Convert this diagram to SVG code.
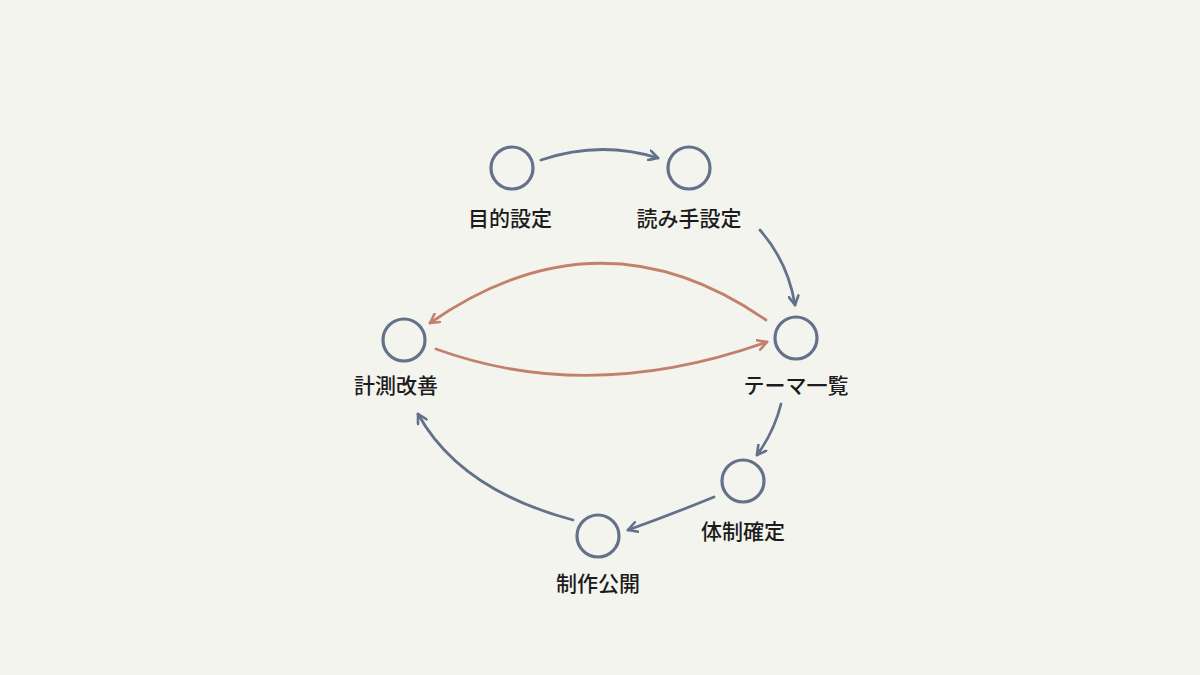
<svg xmlns="http://www.w3.org/2000/svg" width="1200" height="675" viewBox="0 0 1200 675">
<defs>
<marker id="as" viewBox="0 0 12 12" refX="10" refY="6" markerWidth="12" markerHeight="12" markerUnits="userSpaceOnUse" orient="auto"><path d="M1,1 L10,6 L1,11" fill="none" stroke="#64718a" stroke-width="2.6" stroke-linecap="round" stroke-linejoin="round"/></marker>
<marker id="ar" viewBox="0 0 12 12" refX="10" refY="6" markerWidth="12" markerHeight="12" markerUnits="userSpaceOnUse" orient="auto"><path d="M1,1 L10,6 L1,11" fill="none" stroke="#c2816d" stroke-width="2.6" stroke-linecap="round" stroke-linejoin="round"/></marker>
<style>
.n{fill:none;stroke:#64718a;stroke-width:3.2}
.t{font-family:"Noto Sans CJK JP",sans-serif;font-size:21px;font-weight:500;fill:#1c1c1c;text-anchor:middle}
.s{fill:none;stroke:#64718a;stroke-width:2.8;stroke-linecap:round;marker-end:url(#as)}
.r{fill:none;stroke:#c2816d;stroke-width:2.8;stroke-linecap:round;marker-end:url(#ar)}
</style>
</defs>
<rect width="1200" height="675" fill="#f4f4ef"/>
<g id="connectors">
<path class="s" d="M541,160 Q600,140 658,158"/>
<path class="s" d="M760,230 Q788,262 795,305"/>
<path class="s" d="M781,404 Q774,432 757,455"/>
<path class="s" d="M714,497 Q670,515 628,530"/>
<path class="s" d="M573,520 Q460,490 418,414"/>
<path class="r" d="M766,320 Q600,205 430,323"/>
<path class="r" d="M436,349 Q590,405 767,342"/>
</g>
<g id="n1"><circle class="n" cx="512" cy="168" r="21"/><text class="t" x="510" y="226">目的設定</text></g>
<g id="n2"><circle class="n" cx="689" cy="168" r="21"/><text class="t" x="689" y="226">読み手設定</text></g>
<g id="n3"><circle class="n" cx="796" cy="338" r="21"/><text class="t" x="796" y="393">テーマ一覧</text></g>
<g id="n4"><circle class="n" cx="743" cy="481" r="21"/><text class="t" x="743" y="539">体制確定</text></g>
<g id="n5"><circle class="n" cx="598" cy="536" r="21"/><text class="t" x="598" y="591">制作公開</text></g>
<g id="n6"><circle class="n" cx="404" cy="340" r="21"/><text class="t" x="396" y="393">計測改善</text></g>
</svg>
